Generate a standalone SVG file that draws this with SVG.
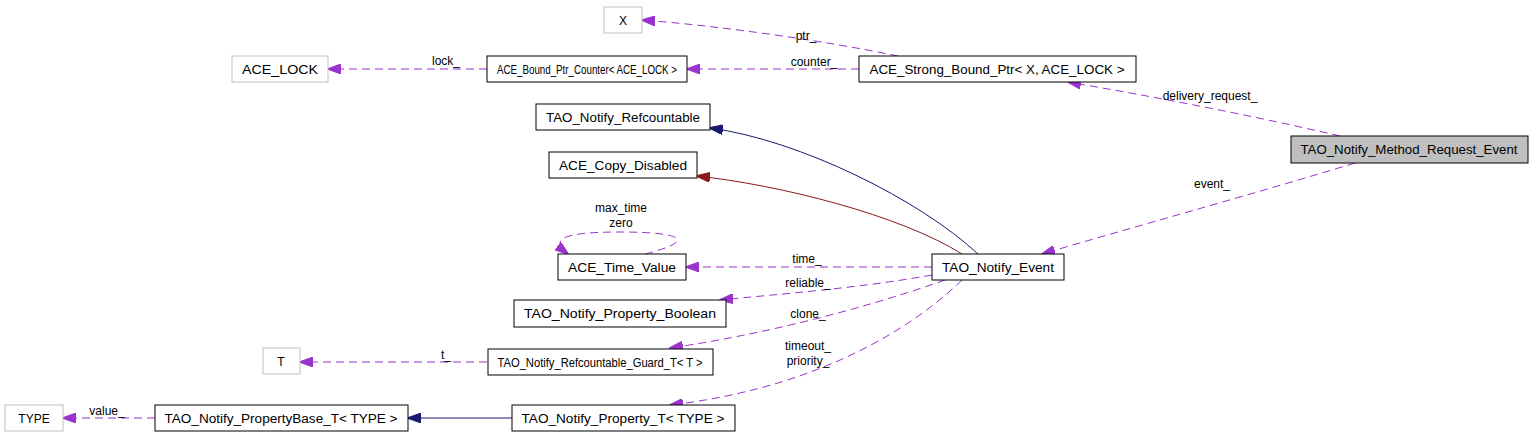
<svg xmlns="http://www.w3.org/2000/svg" width="1536" height="447" viewBox="0 0 1536 447">
<defs>
<marker id="ap" markerWidth="14" markerHeight="10" refX="13" refY="5" orient="auto" markerUnits="userSpaceOnUse"><path d="M0,0 L14,5 L0,10 z" fill="#9a32cd" stroke="#9a32cd"/></marker>
<marker id="an" markerWidth="14" markerHeight="10" refX="13" refY="5" orient="auto" markerUnits="userSpaceOnUse"><path d="M0,0 L14,5 L0,10 z" fill="#191970" stroke="#191970"/></marker>
<marker id="ar" markerWidth="14" markerHeight="10" refX="13" refY="5" orient="auto" markerUnits="userSpaceOnUse"><path d="M0,0 L14,5 L0,10 z" fill="#8b1a1a" stroke="#8b1a1a"/></marker>
</defs>
<style>
text{font-family:"Liberation Sans",Arial,sans-serif;font-size:12px;fill:#000}
.n rect{fill:#fff;stroke:#000;stroke-width:1}
.g rect{fill:#fff;stroke:#bfbfbf;stroke-width:1}
.m rect{fill:#bfbfbf;stroke:#000}
.nt{text-anchor:middle}
.d{fill:none;stroke:#9a32cd;stroke-dasharray:8,5;marker-end:url(#ap)}
.lb{text-anchor:middle}
</style>
<rect width="1536" height="447" fill="#fff"/>
<g id="connectors">
<path class="d" d="M898,56 C820,40 720,26 642,20"/>
<path class="d" d="M859,69 L687,69"/>
<path class="d" d="M487,69 L328,69"/>
<path class="d" d="M1340,136 C1250,115 1150,96 1068,82"/>
<path class="d" d="M1355,163 C1250,195 1130,228 1042,254"/>
<path class="d" d="M932,267 L686,267"/>
<path class="d" d="M932,275 C860,288 780,294 720,300"/>
<path class="d" d="M945,280 C860,310 760,335 670,348"/>
<path class="d" d="M962,280 C900,340 800,390 670,405"/>
<path class="d" d="M645,254 C700,240 680,232 620,232 C560,232 550,240 568,254"/>
<path class="d" d="M487,362 L300,362"/>
<path class="d" d="M155,418 L63,418"/>
<path d="M978,254 C920,200 800,140 710,128" fill="none" stroke="#191970" marker-end="url(#an)"/>
<path d="M962,254 C900,215 780,185 697,176" fill="none" stroke="#8b1a1a" marker-end="url(#ar)"/>
<path d="M512,418 L408,418" fill="none" stroke="#191970" marker-end="url(#an)"/>
<text class="lb" x="806" y="40">ptr_</text>
<text class="lb" x="814" y="66">counter_</text>
<text class="lb" x="446" y="65">lock_</text>
<text class="lb" x="1210" y="100">delivery_request_</text>
<text class="lb" x="1212" y="188">event_</text>
<text class="lb" x="807" y="263">time_</text>
<text class="lb" x="808" y="287">reliable_</text>
<text class="lb" x="808" y="318">clone_</text>
<text class="lb" x="808" y="350">timeout_</text>
<text class="lb" x="808" y="365">priority_</text>
<text class="lb" x="621" y="212">max_time</text>
<text class="lb" x="621" y="227">zero</text>
<text class="lb" x="446" y="359">t_</text>
<text class="lb" x="107" y="415">value_</text>
</g>
<g id="X" class="g"><rect x="604" y="7" width="38" height="26"/><text class="nt" x="623" y="25">X</text></g>
<g id="ACE_LOCK" class="g"><rect x="232" y="56" width="96" height="26"/><text class="nt" x="280" y="74" textLength="76" lengthAdjust="spacingAndGlyphs">ACE_LOCK</text></g>
<g id="ACE_Bound_Ptr_Counter" class="n"><rect x="487" y="56" width="200" height="26"/><text class="nt" x="587" y="74" textLength="180" lengthAdjust="spacingAndGlyphs">ACE_Bound_Ptr_Counter&lt; ACE_LOCK &gt;</text></g>
<g id="ACE_Strong_Bound_Ptr" class="n"><rect x="859" y="56" width="277" height="26"/><text class="nt" x="997" y="74" textLength="255" lengthAdjust="spacingAndGlyphs">ACE_Strong_Bound_Ptr&lt; X, ACE_LOCK &gt;</text></g>
<g id="TAO_Notify_Method_Request_Event" class="m"><rect x="1291" y="136" width="237" height="27"/><text class="nt" x="1409" y="154" textLength="217" lengthAdjust="spacingAndGlyphs">TAO_Notify_Method_Request_Event</text></g>
<g id="TAO_Notify_Refcountable" class="n"><rect x="536" y="104" width="174" height="26"/><text class="nt" x="623" y="122" textLength="154" lengthAdjust="spacingAndGlyphs">TAO_Notify_Refcountable</text></g>
<g id="ACE_Copy_Disabled" class="n"><rect x="549" y="152" width="148" height="26"/><text class="nt" x="623" y="170" textLength="128" lengthAdjust="spacingAndGlyphs">ACE_Copy_Disabled</text></g>
<g id="ACE_Time_Value" class="n"><rect x="558" y="254" width="128" height="26"/><text class="nt" x="622" y="272" textLength="108" lengthAdjust="spacingAndGlyphs">ACE_Time_Value</text></g>
<g id="TAO_Notify_Event" class="n"><rect x="932" y="254" width="132" height="26"/><text class="nt" x="998" y="272" textLength="112" lengthAdjust="spacingAndGlyphs">TAO_Notify_Event</text></g>
<g id="TAO_Notify_Property_Boolean" class="n"><rect x="514" y="300" width="212" height="27"/><text class="nt" x="620" y="318" textLength="192" lengthAdjust="spacingAndGlyphs">TAO_Notify_Property_Boolean</text></g>
<g id="T" class="g"><rect x="263" y="348" width="37" height="26"/><text class="nt" x="281" y="366">T</text></g>
<g id="TAO_Notify_Refcountable_Guard_T" class="n"><rect x="488" y="349" width="225" height="26"/><text class="nt" x="600" y="367" textLength="205" lengthAdjust="spacingAndGlyphs">TAO_Notify_Refcountable_Guard_T&lt; T &gt;</text></g>
<g id="TYPE" class="g"><rect x="5" y="405" width="58" height="26"/><text class="nt" x="34" y="423">TYPE</text></g>
<g id="TAO_Notify_PropertyBase_T" class="n"><rect x="155" y="405" width="253" height="26"/><text class="nt" x="281" y="423" textLength="233" lengthAdjust="spacingAndGlyphs">TAO_Notify_PropertyBase_T&lt; TYPE &gt;</text></g>
<g id="TAO_Notify_Property_T" class="n"><rect x="512" y="405" width="223" height="26"/><text class="nt" x="623" y="423" textLength="203" lengthAdjust="spacingAndGlyphs">TAO_Notify_Property_T&lt; TYPE &gt;</text></g>
</svg>
